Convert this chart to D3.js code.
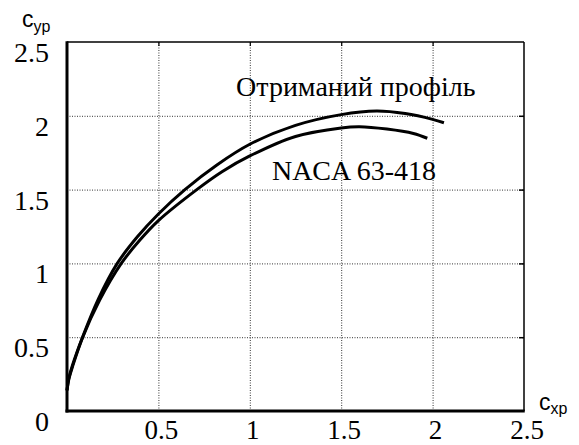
<!DOCTYPE html>
<html>
<head>
<meta charset="utf-8">
<script src="https://cdn.jsdelivr.net/npm/d3@7"></script>
<style>
  html, body { margin: 0; padding: 0; background: #fff; }
  svg { display: block; }
</style>
</head>
<body>
<svg id="chart" width="579" height="445"></svg>
<script>
// ---- data ----
const profileX = [0, 0.01, 0.03, 0.085, 0.17, 0.275, 0.385, 0.5, 0.645, 0.82, 1.0, 1.25, 1.5, 1.694, 1.85, 2.0, 2.062];
const profileY = [0.14, 0.22, 0.31, 0.5, 0.755, 1.0, 1.18, 1.335, 1.5, 1.667, 1.807, 1.935, 2.008, 2.032, 2.015, 1.976, 1.953];
const nacaX = [0, 0.01, 0.03, 0.086, 0.178, 0.297, 0.4, 0.5, 0.71, 0.85, 1.0, 1.25, 1.5, 1.6, 1.75, 1.895, 1.971];
const nacaY = [0.14, 0.215, 0.30, 0.5, 0.75, 1.0, 1.16, 1.29, 1.5, 1.623, 1.728, 1.86, 1.918, 1.926, 1.91, 1.88, 1.848];
const xTicks = [0.5, 1, 1.5, 2, 2.5];
const xTickLabels = ["0.5", "1", "1.5", "2", "2.5"];
const yTicks = [0, 0.5, 1, 1.5, 2, 2.5];
const yTickLabels = ["0", "0.5", "1", "1.5", "2", "2.5"];
const seriesLabels = ["Отриманий профіль", "NACA 63-418"];
const labelPos = [[0.925, 2.134], [1.121, 1.565]];

// ---- layout ----
const svg = d3.select("#chart");
const L = 67, R = 524, T = 42, B = 411;
const x = d3.scaleLinear().domain([0, 2.5]).range([L, R]);
const y = d3.scaleLinear().domain([0, 2.5]).range([B, T]);
const serif = "'Liberation Serif', 'Times New Roman', serif";
const sans = "'Liberation Sans', Arial, sans-serif";

// grid (dotted) via axes
const gx = svg.append("g").attr("transform", `translate(0,${B})`)
  .call(d3.axisBottom(x).tickValues(xTicks.filter(v => v < 2.5)).tickSize(-(B - T)).tickFormat(""));
gx.select(".domain").remove();
gx.selectAll("line").attr("stroke", "#333").attr("stroke-width", 1).attr("stroke-dasharray", "1,1.5");

const gy = svg.append("g").attr("transform", `translate(${L},0)`)
  .call(d3.axisLeft(y).tickValues(yTicks.filter(v => v > 0 && v < 2.5)).tickSize(-(R - L)).tickFormat(""));
gy.select(".domain").remove();
gy.selectAll("line").attr("stroke", "#333").attr("stroke-width", 1).attr("stroke-dasharray", "1,1.5");

// small ticks on right side and top
const gr = svg.append("g").attr("transform", `translate(${R},0)`)
  .call(d3.axisRight(y).tickValues(yTicks.filter(v => v > 0 && v < 2.5)).tickSize(-5).tickFormat(""));
gr.select(".domain").remove();
gr.selectAll("line").attr("stroke", "#000").attr("stroke-width", 1.5);
const gt = svg.append("g").attr("transform", `translate(0,${T})`)
  .call(d3.axisTop(x).tickValues(xTicks.filter(v => v < 2.5)).tickSize(-4).tickFormat(""));
gt.select(".domain").remove();
gt.selectAll("line").attr("stroke", "#000").attr("stroke-width", 1.2);

// frame: thin top/right, thick left/bottom
svg.append("line").attr("x1", L).attr("x2", R).attr("y1", T).attr("y2", T).attr("stroke", "#000").attr("stroke-width", 1.5);
svg.append("line").attr("x1", R).attr("x2", R).attr("y1", T).attr("y2", B).attr("stroke", "#000").attr("stroke-width", 1.5);
svg.append("line").attr("x1", L).attr("x2", L).attr("y1", T - 0.75).attr("y2", B + 1.5).attr("stroke", "#000").attr("stroke-width", 3);
svg.append("line").attr("x1", L - 1.5).attr("x2", R + 0.75).attr("y1", B).attr("y2", B).attr("stroke", "#000").attr("stroke-width", 3);

// tick labels
const yl = svg.append("g").attr("font-family", serif).attr("font-size", 28).attr("fill", "#000");
yl.selectAll("text").data(yTicks).join("text")
  .attr("x", L - 18).attr("y", d => y(d) + 20).attr("text-anchor", "end")
  .text((d, i) => yTickLabels[i]);
const xl = svg.append("g").attr("font-family", serif).attr("font-size", 27).attr("fill", "#000");
xl.selectAll("text").data(xTicks).join("text")
  .attr("x", d => x(d) + 3).attr("y", B + 28).attr("text-anchor", "middle")
  .text((d, i) => xTickLabels[i]);

// axis titles
const ty = svg.append("text").attr("font-family", sans).attr("font-size", 23).attr("x", 22).attr("y", 27);
ty.append("tspan").text("c");
ty.append("tspan").attr("font-size", 16).attr("dy", 5).text("yp");
const tx = svg.append("text").attr("font-family", sans).attr("font-size", 23).attr("x", 539).attr("y", 410);
tx.append("tspan").text("c");
tx.append("tspan").attr("font-size", 16).attr("dy", 4).text("xp");

// curves
const line = d3.line().x(d => x(d[0])).y(d => y(d[1])).curve(d3.curveCatmullRom.alpha(0.5));
const series = [d3.zip(profileX, profileY), d3.zip(nacaX, nacaY)];
svg.append("g").selectAll("path").data(series).join("path")
  .attr("d", line).attr("fill", "none").attr("stroke", "#000").attr("stroke-width", 3)
  .attr("stroke-linejoin", "round").attr("stroke-linecap", "butt");

// series labels
svg.append("g").attr("font-family", serif).attr("font-size", 28).attr("fill", "#000")
  .selectAll("text").data(seriesLabels).join("text")
  .attr("x", (d, i) => x(labelPos[i][0])).attr("y", (d, i) => y(labelPos[i][1]))
  .text(d => d);
</script>
</body>
</html>
